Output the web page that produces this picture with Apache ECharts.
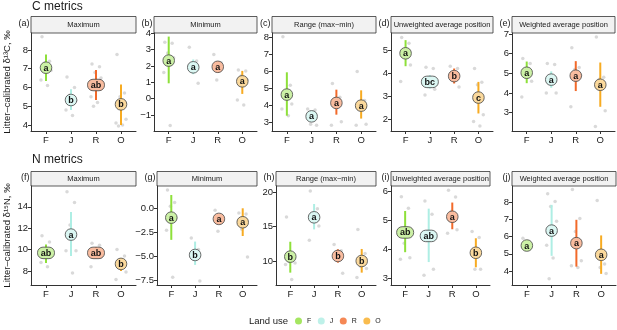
<!DOCTYPE html>
<html>
<head>
<meta charset="utf-8">
<script src="https://cdn.jsdelivr.net/npm/echarts@6/dist/echarts.min.js"></script>
<style>
  html, body { margin: 0; padding: 0; background: #fff; }
  #chart { width: 617px; height: 330px; }
</style>
</head>
<body>
<div id="chart"></div>
<script>
// categories / colours
const cats = ['F', 'J', 'R', 'O'];
const catColors = ['#8ee03a', '#aeeee4', '#f26a2a', '#f7ab22'];
const stripTitles = ['Maximum', 'Minimum', 'Range (max\u2212min)', 'Unweighted average position', 'Weighted average position'];
const panelTags = ['(a)', '(b)', '(c)', '(d)', '(e)', '(f)', '(g)', '(h)', '(i)', '(j)'];

// (a) C maximum
const aMean = [7.05, 5.33, 6.13, 5.10];
const aLo = [6.34, 4.80, 5.33, 4.00];
const aHi = [7.76, 5.90, 6.93, 6.16];
const aLet = ['a', 'b', 'ab', 'b'];
const aPts = [[8.7, 7.4, 7.3, 6.9, 6.4, 6.1], [6.55, 6.0, 5.6, 5.3, 4.8, 4.5], [7.25, 7.1, 6.8, 6.5, 5.5, 5.2, 5.0], [7.75, 5.7, 5.5, 4.3, 4.1, 4.0, 3.95]];
const aTicks = [4, 5, 6, 7, 8];
// (b) C minimum
const bMean = [2.33, 1.92, 1.95, 1.06];
const bLo = [0.94, 1.5, 1.6, 0.29];
const bHi = [3.8, 2.4, 2.3, 1.7];
const bLet = ['a', 'a', 'a', 'a'];
const bPts = [[3.45, 3.4, 2.8, 2.5, 1.6, -1.65], [3.15, 2.3, 1.9, 0.95], [2.7, 2.2, 1.15], [1.76, 1.7, 1.4, 1.14, -0.08, -0.39]];
const bTicks = [-1, 0, 1, 2, 3, 4];
// (c) C range
const cMean = [4.65, 3.37, 4.16, 4.0];
const cLo = [3.41, 3.18, 3.47, 3.24];
const cHi = [5.96, 3.57, 4.94, 4.9];
const cLet = ['a', 'a', 'a', 'a'];
const cPts = [[8.05, 5.2, 4.6, 4.1, 3.8, 3.4], [3.8, 3.75, 2.9, 2.85], [5.3, 4.5, 4.3, 3.05, 2.85], [6.0, 4.3, 4.1, 2.9, 2.85]];
const cTicks = [3, 4, 5, 6, 7, 8];
// (d) C unweighted average position
const dMean = [4.86, 3.62, 3.87, 2.94];
const dLo = [4.30, 3.33, 3.55, 2.25];
const dHi = [5.43, 3.91, 4.20, 3.62];
const dLet = ['a', 'bc', 'b', 'c'];
const dPts = [[5.55, 5.3, 5.0, 4.35, 3.64], [4.25, 4.2, 3.6, 3.3, 3.05], [4.3, 4.2, 3.8, 3.4], [4.2, 3.6, 3.5, 2.2, 1.9, 1.71]];
const dTicks = [2, 3, 4, 5];
// (e) C weighted average position
const eMean = [5.03, 4.68, 4.88, 4.42];
const eLo = [4.5, 4.27, 4.1, 3.3];
const eHi = [5.6, 5.1, 5.62, 5.55];
const eLet = ['a', 'a', 'a', 'a'];
const ePts = [[5.75, 5.5, 5.2, 4.6, 3.8], [5.5, 5.45, 4.7, 4.0, 4.0], [6.3, 5.3, 5.2, 4.9, 3.3], [6.85, 4.8, 4.7, 3.1, 2.3]];
const eTicks = [3, 4, 5, 6, 7];
// (f) N maximum
const fMean = [9.69, 11.4, 9.69, 8.66];
const fLo = [8.75, 9.4, 9.2, 8.0];
const fHi = [10.47, 13.5, 10.25, 9.2];
const fLet = ['ab', 'a', 'ab', 'b'];
const fPts = [[11.3, 10.7, 9.8, 9.5, 8.8, 8.4], [15.4, 14.4, 12.3, 9.9, 9.9, 7.8], [10.6, 10.4, 9.7, 9.3, 8.4], [10.0, 9.4, 8.3, 7.9, 7.2]];
const fTicks = [8, 10, 12, 14];
// (g) N minimum
const gMean = [-0.98, -4.88, -1.11, -1.46];
const gLo = [-3.3, -5.92, -1.64, -2.9];
const gHi = [1.39, -3.48, -0.63, 0.0];
const gLet = ['a', 'b', 'a', 'a'];
const gPts = [[1.9, 0.6, 0.2, -1.0, -2.3, -7.2], [-3.1, -4.3, -5.2, -7.6], [-0.2, -1.3, -2.4], [-0.5, -0.6, -2.2, -5.1]];
const gTicks = [-7.5, -5, -2.5, 0];
// (h) N range
const hMean = [10.63, 16.36, 10.73, 10.0];
const hLo = [8.3, 14.6, 9.76, 8.3];
const hHi = [12.8, 18.3, 11.7, 11.75];
const hLet = ['b', 'a', 'b', 'b'];
const hPts = [[16.4, 10.5, 9.9, 9.7, 9.5, 7.3], [20.2, 17.6, 16.8, 15.1, 13.0], [12.4, 11.5, 10.5, 8.2], [14.6, 11.1, 9.2, 8.9, 7.6]];
const hTicks = [10, 15, 20];
// (i) N unweighted average position
const iMean = [4.57, 4.45, 5.11, 3.87];
const iLo = [3.89, 3.55, 4.68, 3.37];
const iHi = [5.31, 5.39, 5.6, 4.37];
const iLet = ['ab', 'ab', 'a', 'b'];
const iPts = [[5.8, 5.4, 4.2, 3.7, 3.65], [5.65, 5.2, 4.6, 3.3, 3.1], [6.02, 5.79, 5.3, 4.66, 4.54], [4.6, 4.4, 3.3, 3.3]];
const iTicks = [3, 4, 5, 6];
// (j) N weighted average position
const jMean = [5.48, 6.35, 5.62, 4.94];
const jLo = [5.27, 4.88, 4.25, 3.83];
const jHi = [5.7, 7.85, 6.98, 6.07];
const jLet = ['a', 'a', 'a', 'a'];
const jPts = [[5.9, 5.35, 5.25], [8.5, 8.05, 7.75, 6.9, 5.5, 4.75, 3.55], [8.75, 7.05, 6.3, 4.6, 4.3, 4.2], [8.1, 4.4, 4.2, 3.85]];
const jTicks = [4, 5, 6, 7, 8];

// fixed horizontal spread pattern for the raw points
const JIT = [-0.16, 0.14, -0.04, 0.2, -0.2, 0.06, -0.1, 0.1];

const panels = [
  { mean: aMean, lo: aLo, hi: aHi, let: aLet, pts: aPts, ticks: aTicks, range: [3.68, 8.9] },
  { mean: bMean, lo: bLo, hi: bHi, let: bLet, pts: bPts, ticks: bTicks, range: [-1.98, 4.02] },
  { mean: cMean, lo: cLo, hi: cHi, let: cLet, pts: cPts, ticks: cTicks, range: [2.51, 8.27] },
  { mean: dMean, lo: dLo, hi: dHi, let: dLet, pts: dPts, ticks: dTicks, range: [1.49, 5.74] },
  { mean: eMean, lo: eLo, hi: eHi, let: eLet, pts: ePts, ticks: eTicks, range: [2.07, 7.05] },
  { mean: fMean, lo: fLo, hi: fHi, let: fLet, pts: fPts, ticks: fTicks, range: [6.69, 15.94] },
  { mean: gMean, lo: gLo, hi: gHi, let: gLet, pts: gPts, ticks: gTicks, range: [-8.02, 2.33], dec: 1 },
  { mean: hMean, lo: hLo, hi: hHi, let: hLet, pts: hPts, ticks: hTicks, range: [6.5, 20.92] },
  { mean: iMean, lo: iLo, hi: iHi, let: iLet, pts: iPts, ticks: iTicks, range: [2.76, 6.17] },
  { mean: jMean, lo: jLo, hi: jHi, let: jLet, pts: jPts, ticks: jTicks, range: [3.18, 8.95] },
];

// layout: [left, top, width, height]
const boxes = [
  [31, 33, 105, 98], [154, 33, 103, 98], [272, 33, 104, 98], [391, 33, 102, 98], [512, 33, 103, 98],
  [31, 186, 105, 99], [157, 186, 100, 99], [276, 186, 100, 99], [391, 186, 99, 99], [512, 186, 104, 99],
];
const FONT = '"Liberation Sans", Arial, sans-serif';

function tint(hex, t) {
  const n = parseInt(hex.slice(1), 16);
  const r = (n >> 16) & 255, g = (n >> 8) & 255, b = n & 255;
  const m = c => Math.round(c * t + 255 * (1 - t));
  return `rgb(${m(r)},${m(g)},${m(b)})`;
}
const minus = s => String(s).replace('-', '\u2212');

const chart = echarts.init(document.getElementById('chart'), null, { renderer: 'canvas' });

const grid = [], xAxis = [], yAxis = [], series = [], graphic = [];

panels.forEach((p, k) => {
  const [l, t, w, h] = boxes[k];
  grid.push({ left: l, top: t, width: w, height: h, containLabel: false });
  xAxis.push({
    type: 'value', gridIndex: k, min: 0.4, max: 4.6,
    splitLine: { show: false },
    axisLine: { show: true, onZero: false, lineStyle: { color: '#333', width: 1 } },
    axisTick: { show: true, customValues: [1, 2, 3, 4], length: 3, lineStyle: { color: '#333' } },
    axisLabel: { customValues: [1, 2, 3, 4], formatter: v => cats[Math.round(v) - 1], color: '#1a1a1a', fontSize: 9.5, fontFamily: FONT, margin: 4 },
  });
  const yname = k === 0 ? 'Litter\u2013calibrated \u03b4\u00b9\u00b3C, \u2030' : (k === 5 ? 'Litter\u2013calibrated \u03b4\u00b9\u2075N, \u2030' : '');
  yAxis.push({
    type: 'value', gridIndex: k, min: p.range[0], max: p.range[1],
    name: yname, nameLocation: 'middle', nameGap: 19, nameRotate: 90,
    nameTextStyle: { fontSize: 9.5, fontFamily: FONT, color: '#1a1a1a' },
    splitLine: { show: false },
    axisLine: { show: true, onZero: false, lineStyle: { color: '#333', width: 1 } },
    axisTick: { show: true, customValues: p.ticks, length: 3, lineStyle: { color: '#333' } },
    axisLabel: {
      customValues: p.ticks, color: '#1a1a1a', fontSize: 9.5, fontFamily: FONT, margin: 3,
      formatter: v => minus(p.dec ? Number(v).toFixed(p.dec) : v),
    },
  });

  // raw points
  const raw = [];
  p.pts.forEach((arr, i) => arr.forEach((v, j) => raw.push([i + 1 + JIT[j % JIT.length], v])));
  series.push({
    type: 'scatter', xAxisIndex: k, yAxisIndex: k, data: raw, symbolSize: 3.5, silent: true, z: 2,
    itemStyle: { color: 'rgba(150,150,150,0.45)' },
  });

  // error bars with letter badges
  series.push({
    type: 'custom', xAxisIndex: k, yAxisIndex: k, silent: true, z: 3,
    data: p.mean.map((m, i) => [i + 1, p.lo[i], p.hi[i], m]),
    renderItem: (params, api) => {
      const i = params.dataIndex;
      const x = api.value(0);
      const top = api.coord([x, api.value(2)]);
      const bot = api.coord([x, api.value(1)]);
      const mid = api.coord([x, api.value(3)]);
      const txt = p.let[i];
      const bw = txt.length > 1 ? 17 : 11.5, bh = 11.5;
      return {
        type: 'group',
        children: [
          { type: 'line', shape: { x1: top[0], y1: top[1], x2: bot[0], y2: bot[1] }, style: { stroke: catColors[i], lineWidth: 2 } },
          { type: 'rect', shape: { x: mid[0] - bw / 2, y: mid[1] - bh / 2, width: bw, height: bh, r: 5.5 },
            style: { fill: tint(catColors[i], 0.45), stroke: '#444', lineWidth: 0.8 } },
          { type: 'text', style: { text: txt, x: mid[0], y: mid[1] + 0.5, align: 'center', verticalAlign: 'middle',
            font: `bold 9px ${FONT}`, fill: '#111' } },
        ],
      };
    },
  });

  // strip header and panel tag
  const sTop = k < 5 ? 16.5 : 171.5;
  const sH = t - sTop;
  graphic.push({ type: 'rect', x: l, y: sTop, shape: { width: w, height: sH },
    style: { fill: '#f2f2f2', stroke: '#333', lineWidth: 0.8 } });
  graphic.push({ type: 'text', x: l + w / 2, y: sTop + sH / 2,
    style: { text: stripTitles[k % 5], align: 'center', verticalAlign: 'middle', font: `7.5px ${FONT}`, fill: '#1a1a1a' } });
  graphic.push({ type: 'text', x: l - 1.5, y: sTop + sH / 2 - 1,
    style: { text: panelTags[k], align: 'right', verticalAlign: 'middle', font: `9px ${FONT}`, fill: '#1a1a1a' } });
});

// legend-only series
cats.forEach((c, i) => series.push({ type: 'scatter', name: c, data: [], xAxisIndex: 0, yAxisIndex: 0, itemStyle: { color: catColors[i] } }));

// row titles and legend caption
graphic.push({ type: 'text', x: 32, y: 1,
  style: { text: 'C metrics', font: `12px ${FONT}`, fill: '#1a1a1a' } });
graphic.push({ type: 'text', x: 32, y: 154,
  style: { text: 'N metrics', font: `12px ${FONT}`, fill: '#1a1a1a' } });
graphic.push({ type: 'text', x: 249, y: 316,
  style: { text: 'Land use', font: `9.5px ${FONT}`, fill: '#1a1a1a' } });

chart.setOption({
  animation: false,
  legend: {
    data: cats, left: 295, top: 317.5, padding: 0, itemWidth: 7, itemHeight: 7, itemGap: 6.5, icon: 'circle',
    selectedMode: false, textStyle: { fontSize: 7, fontFamily: FONT, color: '#1a1a1a', padding: [0, 0, 0, 0] },
  },
  grid, xAxis, yAxis, series, graphic,
});
</script>
</body>
</html>
